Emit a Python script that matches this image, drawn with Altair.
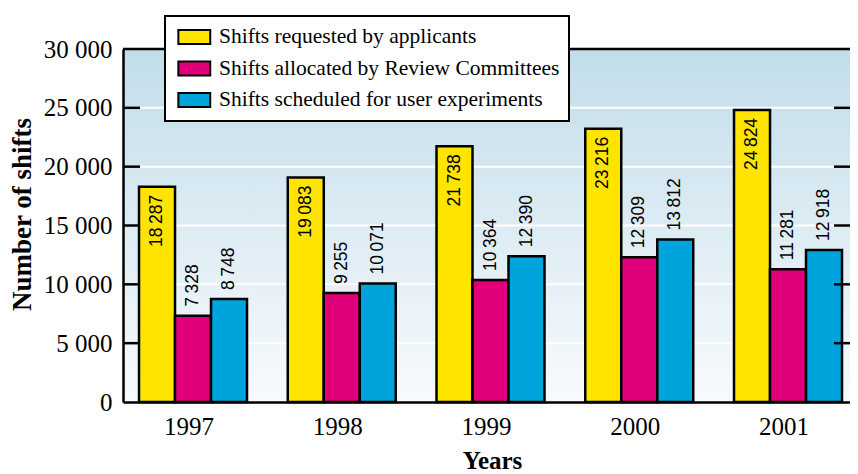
import altair as alt
import pandas as pd

years = ["1997", "1998", "1999", "2000", "2001"]
series = [
    "Shifts requested by applicants",
    "Shifts allocated by Review Committees",
    "Shifts scheduled for user experiments",
]
requested = [18287, 19083, 21738, 23216, 24824]
allocated = [7328, 9255, 10364, 12309, 11281]
scheduled = [8748, 10071, 12390, 13812, 12918]
colors = ["#FFE400", "#E2007A", "#00A4DC"]
grid_values = [5000, 10000, 15000, 20000, 25000]
y_ticks = [0, 5000, 10000, 15000, 20000, 25000, 30000]

rows = []
for s, vals in zip(series, [requested, allocated, scheduled]):
    for y, v in zip(years, vals):
        rows.append({"year": y, "series": s, "value": v})
df = pd.DataFrame(rows)
grid_df = pd.DataFrame({"value": grid_values})

W, H = 727, 353
SERIF = "Liberation Serif"
SANS = "Liberation Sans"

yscale = alt.Scale(domain=[0, 30000], nice=False, zero=True)
yaxis = alt.Axis(
    values=y_ticks,
    labelExpr="replace(format(datum.value, ','), ',', ' ')",
    labelFont=SERIF, labelFontSize=25, labelColor="black", labelPadding=11,
    labelBaseline="middle",
    ticks=False, tickSize=0, grid=False,
    domainColor="black", domainWidth=2.5,
    title="Number of shifts", titleFont=SERIF, titleFontSize=27, titleFontWeight="bold",
    titleColor="black", titleX=-93, titleY=165, titleAngle=270,
    titleBaseline="alphabetic", titleAlign="center", zindex=1,
)
xaxis = alt.Axis(
    labelAngle=0, labelFont=SERIF, labelFontSize=25, labelColor="black",
    labelBaseline="alphabetic", labelPadding=32, labelOffset=-4,
    ticks=False, tickSize=0, grid=False,
    domainColor="black", domainWidth=2.5,
    title="Years", titleFont=SERIF, titleFontSize=25, titleFontWeight="bold",
    titleColor="black", titleX=369, titleY=66, titleBaseline="alphabetic",
    titleAlign="center", zindex=1,
)
xscale = alt.Scale(paddingInner=0.274, paddingOuter=0.0807, align=0.667)
xoff = alt.XOffset("series:N", sort=series, scale=alt.Scale(domain=series, paddingInner=0, paddingOuter=0))
Y = alt.Y("value:Q", scale=yscale, axis=yaxis)
X = alt.X("year:N", sort=years, scale=xscale, axis=xaxis)

gradient = alt.LinearGradient(
    gradient="linear",
    stops=[alt.GradientStop(offset=0, color="#C1DDEA"), alt.GradientStop(offset=1, color="#F8FAFD")],
    x1=0, x2=0, y1=0, y2=1,
)
bg = alt.Chart(pd.DataFrame({"a": [0]})).mark_rect(fill=gradient).encode(
    x=alt.value(0), x2=alt.value(W), y=alt.value(0), y2=alt.value(H)
)
grid = alt.Chart(grid_df).mark_rule(color="white", strokeWidth=2).encode(
    y=Y, x=alt.value(0), x2=alt.value(W)
)

sym = "M-0.695,-0.64L2.205,-0.64L2.205,0.64L-0.695,0.64Z"
bars = alt.Chart(df).mark_bar(stroke="black", strokeWidth=2.5).encode(
    x=X, xOffset=xoff, y=Y,
    fill=alt.Fill(
        "series:N", sort=series,
        scale=alt.Scale(domain=series, range=colors),
        legend=alt.Legend(
            title=None, orient="none", legendX=42, legendY=-33,
            symbolType=sym, symbolSize=484, symbolStrokeColor="black",
            symbolStrokeWidth=2, symbolOpacity=1,
            labelFont=SERIF, labelFontSize=21.5, labelColor="black", labelLimit=600,
            labelOffset=21, rowPadding=7.5, padding=9, clipHeight=24,
            fillColor="white", strokeColor="black",
        ),
    ),
)

label_expr = "replace(format(datum.value, ','), ',', '\u2009')"
base_text = alt.Chart(df).transform_calculate(label=label_expr)
text_in = base_text.transform_filter(alt.datum.series == series[0]).mark_text(
    angle=270, align="right", baseline="middle", dx=-8,
    font=SANS, fontSize=17.5, color="black",
).encode(x=X, xOffset=xoff, y=Y, text="label:N")
text_out = base_text.transform_filter(alt.datum.series != series[0]).mark_text(
    angle=270, align="left", baseline="middle", dx=9,
    font=SANS, fontSize=17.5, color="black",
).encode(x=X, xOffset=xoff, y=Y, text="label:N")

ticks_l = alt.Chart(grid_df).mark_rule(color="black", strokeWidth=2.5).encode(
    y=Y, x=alt.value(0), x2=alt.value(17)
)
ticks_r = alt.Chart(grid_df).mark_rule(color="black", strokeWidth=2.5).encode(
    y=Y, x=alt.value(W - 16), x2=alt.value(W)
)
top_line = alt.Chart(pd.DataFrame({"a": [0]})).mark_rule(color="black", strokeWidth=2.5).encode(
    y=alt.value(0), x=alt.value(0), x2=alt.value(W)
)

chart = alt.layer(bg, grid, bars, text_in, text_out, ticks_l, ticks_r, top_line).properties(
    width=W, height=H,
    autosize=alt.AutoSizeParams(type="none"),
    padding={"left": 115, "top": 41, "right": 0, "bottom": 77},
    background="white",
).configure_view(stroke="transparent").configure_legend(strokeWidth=2)

chart.save("out.html", embed_options={"renderer": "svg", "actions": False})
